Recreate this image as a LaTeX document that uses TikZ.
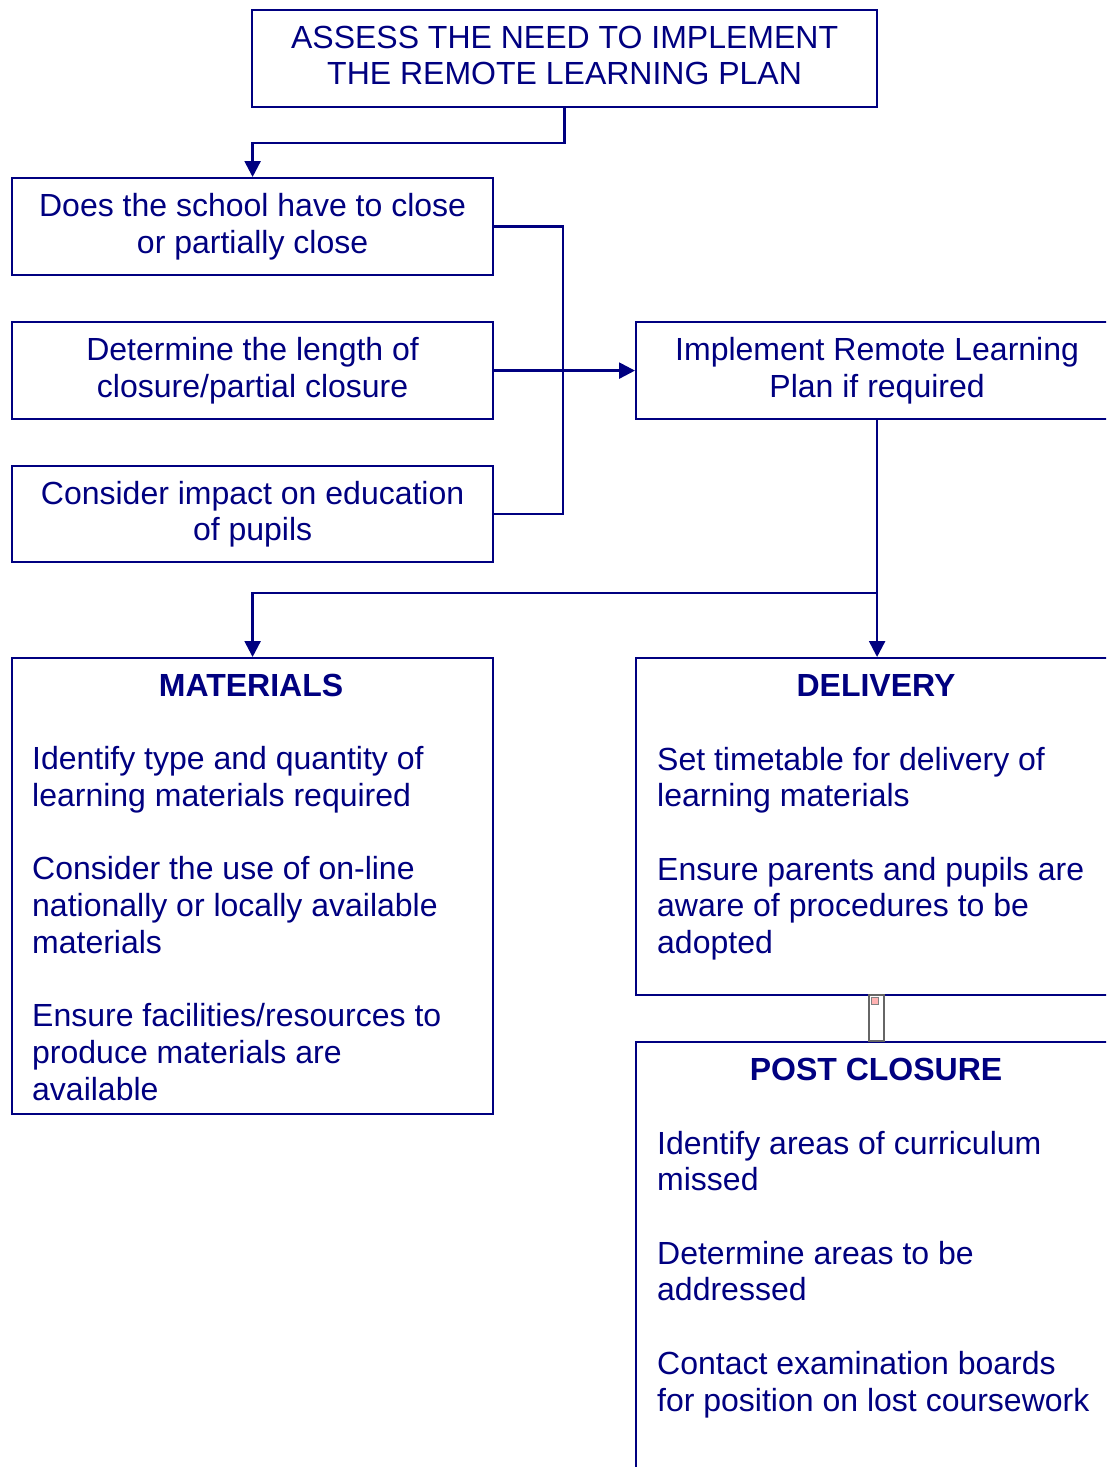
\documentclass[tikz,border=0pt]{standalone}
\usepackage{fontspec}
\setmainfont{Liberation Sans}
\usetikzlibrary{arrows.meta}
\definecolor{navy}{RGB}{0,0,128}
\begin{document}
\begin{tikzpicture}[x=1pt,y=-1pt,
  box/.style={draw=navy, line width=2.2pt, inner sep=0pt, anchor=north west},
  txt/.style={text=navy, font=\fontsize{32}{36.7}\selectfont, inner sep=0pt},
  head/.style={text=navy, font=\fontsize{32}{36.7}\selectfont\bfseries, inner sep=0pt, anchor=base},
  body/.style={txt, align=left, anchor=base west},
  line/.style={draw=navy, line width=2.5pt},
  arr/.style={line, -{Triangle[width=16pt,length=16pt]}}]
\useasboundingbox (0,0) rectangle (1106,1467);
\clip (0,0) rectangle (1106,1467);
% boxes
\node[box, minimum width=625pt, minimum height=97pt] (top) at (251,9) {};
\node[txt, align=center] (toptxt) at ([yshift=3pt]top.center) {ASSESS THE NEED TO IMPLEMENT\\THE REMOTE LEARNING PLAN};
\node[box, minimum width=481pt, minimum height=97pt] (a) at (11,177) {};
\node[txt, align=center] (atxt) at (a.center) {Does the school have to close\\or partially close};
\node[box, minimum width=481pt, minimum height=97pt] (b) at (11,321) {};
\node[txt, align=center] (btxt) at (b.center) {Determine the length of\\closure/partial closure};
\node[box, minimum width=481pt, minimum height=96pt] (c) at (11,465) {};
\node[txt, align=center] (ctxt) at (c.center) {Consider impact on education\\of pupils};
\node[box, minimum width=482pt, minimum height=97pt] (impl) at (635,321) {};
\node[txt, align=center] (impltxt) at (impl.center) {Implement Remote Learning\\Plan if required};
\node[box, minimum width=481pt, minimum height=456pt] (mat) at (11,657) {};
\node[box, minimum width=482pt, minimum height=337pt] (deliv) at (635,657) {};
\node[box, minimum width=482pt, minimum height=460pt] (post) at (635,1041) {};
% big box texts (anchor = baseline of last line)
\node[head] (math) at (251,696) {MATERIALS};
\node[body] (matb) at (32,1100) {Identify type and quantity of\\learning materials required\\[36.7pt]Consider the use of on-line\\nationally or locally available\\materials\\[36.7pt]Ensure facilities/resources to\\produce materials are\\available};
\node[head] (delh) at (876,696) {DELIVERY};
\node[body] (delb) at (657,953.5) {Set timetable for delivery of\\learning materials\\[36.7pt]Ensure parents and pupils are\\aware of procedures to be\\adopted};
\node[head] (posth) at (876,1080) {POST CLOSURE};
\node[body] (postb) at (657,1411) {Identify areas of curriculum\\missed\\[36.7pt]Determine areas to be\\addressed\\[36.7pt]Contact examination boards\\for position on lost coursework};
% small placeholder between delivery and post closure
\node[draw=gray!80!black, line width=1.5pt, minimum width=15pt, minimum height=46pt, inner sep=0pt, anchor=north west] (ph) at (868,994) {};
\node[draw=gray, line width=0.6pt, fill=red!30, minimum size=7pt, inner sep=0pt] (icon) at (875,1001) {};
% connectors
\draw[arr] (top.south) -- ++(0,35) -| (a.north);
\coordinate (j) at (563,369);
\draw[line] (a.east) -| (j) |- (c.east);
\draw[arr] (b.east) -- (impl.west);
\coordinate (split) at (876,593);
\draw[arr] (impl.south) -- (deliv.north);
\draw[arr] (split) -| (mat.north);
\end{tikzpicture}
\end{document}
